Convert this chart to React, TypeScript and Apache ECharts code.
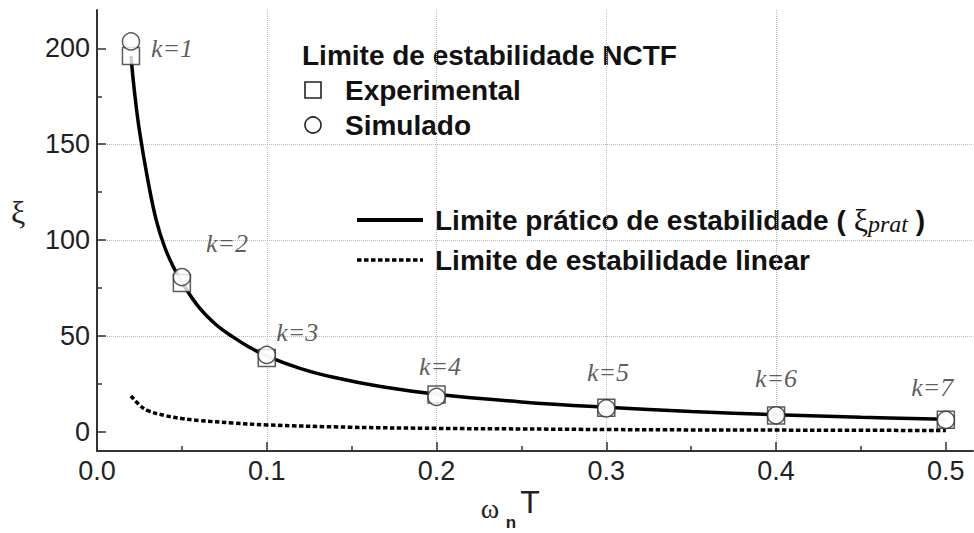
import React, { useEffect, useRef } from "react";
import * as echarts from "echarts";

// ---- data ----
const kX = [0.02, 0.05, 0.1, 0.2, 0.3, 0.4, 0.5];
const experimental = [196, 77.6, 38.5, 19.5, 12.5, 8.5, 6.3];
const simulated = [203.6, 80.7, 40.1, 18.2, 12.2, 8.6, 6.2];

const practicalX = [0.02, 0.022, 0.025, 0.03, 0.035, 0.04, 0.045, 0.05, 0.06, 0.07, 0.08, 0.09, 0.1, 0.12, 0.14, 0.167, 0.2, 0.25, 0.3, 0.35, 0.4, 0.45, 0.5];
const practicalY = [196, 178, 157, 131, 110, 96, 86, 78, 65, 56, 49.5, 44, 39.5, 33, 28.3, 23.6, 19.6, 15.6, 12.8, 10.6, 8.9, 7.6, 6.5];

const linearX = [0.02, 0.025, 0.03, 0.04, 0.05, 0.06, 0.08, 0.1, 0.15, 0.2, 0.25, 0.3, 0.35, 0.4, 0.45, 0.5];
const linearY = [18.8, 14, 11, 8.5, 6.9, 5.9, 4.6, 3.6, 2.4, 1.8, 1.5, 1.2, 1.0, 0.9, 0.8, 0.7];

const kLabels = ["k=1", "k=2", "k=3", "k=4", "k=5", "k=6", "k=7"];
const kLabelX = [0.0442, 0.0766, 0.118, 0.202, 0.301, 0.4, 0.492];
const kLabelY = [200, 98.4, 52, 33.9, 30.7, 28, 23];

const xTicks = [0, 0.1, 0.2, 0.3, 0.4, 0.5];
const xMinorTicks = [0.05, 0.15, 0.25, 0.35, 0.45];
const yTicks = [0, 50, 100, 150, 200];
const yMinorTicks = [25, 75, 125, 175];

const X_MIN = 0;
const X_MAX = 0.516;
const Y_MIN = -10;
const Y_MAX = 220;

const SANS = '"Liberation Sans", Arial, sans-serif';
const SERIF = '"Liberation Serif", "Times New Roman", serif';

export default function App() {
  const ref = useRef<HTMLDivElement>(null);

  useEffect(() => {
    document.body.style.margin = "0";
    if (!ref.current) return;
    const chart = echarts.init(ref.current, undefined, { renderer: "svg" });

    const axisLineStyle = { color: "#333", width: 2 };

    const option: any = {
      animation: false,
      backgroundColor: "#fff",
      grid: { left: 97, right: 1, top: 10, bottom: 82, containLabel: false },
      xAxis: [
        {
          type: "value",
          min: X_MIN,
          max: X_MAX,
          interval: 0.1,
          position: "bottom",
          axisLine: { show: true, onZero: false, lineStyle: axisLineStyle },
          axisTick: { show: true, inside: true, length: 9, customValues: xTicks, lineStyle: { color: "#333", width: 1.5 } },
          axisLabel: {
            customValues: xTicks,
            formatter: (v: number) => v.toFixed(1),
            fontFamily: SANS,
            fontSize: 27,
            color: "#222",
            margin: 6,
          },
          splitLine: { show: true, showMaxLine: false, showMinLine: false, lineStyle: { type: "dotted", color: "#bbb", width: 1 } },
        },
        {
          type: "value",
          min: X_MIN,
          max: X_MAX,
          position: "bottom",
          axisLine: { show: false, onZero: false },
          axisTick: { show: true, inside: true, length: 5, customValues: xMinorTicks, lineStyle: { color: "#333", width: 1.5 } },
          axisLabel: { show: false },
          splitLine: { show: false },
        },
      ],
      yAxis: [
        {
          type: "value",
          min: Y_MIN,
          max: Y_MAX,
          splitNumber: 5,
          position: "left",
          axisLine: { show: true, onZero: false, lineStyle: axisLineStyle },
          axisTick: { show: true, inside: true, length: 9, customValues: yTicks, lineStyle: { color: "#333", width: 1.5 } },
          axisLabel: {
            customValues: yTicks,
            fontFamily: SANS,
            fontSize: 27,
            color: "#222",
            margin: 7,
          },
          splitLine: { show: true, showMaxLine: false, showMinLine: false, lineStyle: { type: "dotted", color: "#bbb", width: 1 } },
        },
        {
          type: "value",
          min: Y_MIN,
          max: Y_MAX,
          position: "left",
          axisLine: { show: false, onZero: false },
          axisTick: { show: true, inside: true, length: 5, customValues: yMinorTicks, lineStyle: { color: "#333", width: 1.5 } },
          axisLabel: { show: false },
          splitLine: { show: false },
        },
      ],
      series: [
        {
          name: "Limite de estabilidade linear",
          type: "line",
          data: linearX.map((x, i) => [x, linearY[i]]),
          smooth: 0.4,
          symbol: "none",
          lineStyle: { color: "#000", width: 3.5, type: [4.5, 2.5] },
          z: 2,
        },
        {
          name: "Limite prático de estabilidade",
          type: "line",
          data: practicalX.map((x, i) => [x, practicalY[i]]),
          smooth: 0.4,
          symbol: "none",
          lineStyle: { color: "#000", width: 3.5 },
          z: 3,
        },
        {
          name: "Experimental",
          type: "scatter",
          data: kX.map((x, i) => [x, experimental[i]]),
          symbol: "rect",
          symbolSize: 17,
          itemStyle: { color: "#fff", borderColor: "#333", borderWidth: 1.5 },
          z: 4,
        },
        {
          name: "Simulado",
          type: "scatter",
          data: kX.map((x, i) => [x, simulated[i]]),
          symbol: "circle",
          symbolSize: 17,
          itemStyle: { color: "#fff", borderColor: "#333", borderWidth: 1.5 },
          z: 5,
        },
        {
          name: "k",
          type: "scatter",
          data: kLabelX.map((x, i) => ({ value: [x, kLabelY[i]], name: kLabels[i] })),
          symbolSize: 1,
          itemStyle: { color: "rgba(0,0,0,0)" },
          label: {
            show: true,
            position: "inside",
            formatter: (p: any) => p.name,
            fontFamily: SERIF,
            fontStyle: "italic",
            fontSize: 26,
            color: "#333",
          },
          silent: true,
          z: 6,
        },
      ],
      graphic: [
        {
          type: "text",
          x: 302,
          y: 55,
          style: { text: "Limite de estabilidade NCTF", font: `bold 28px ${SANS}`, fill: "#111", align: "left", verticalAlign: "middle" },
        },
        {
          type: "rect",
          shape: { x: 305, y: 82, width: 16, height: 16 },
          style: { fill: "#fff", stroke: "#222", lineWidth: 1.6 },
        },
        {
          type: "text",
          x: 345,
          y: 90,
          style: { text: "Experimental", font: `bold 28px ${SANS}`, fill: "#111", align: "left", verticalAlign: "middle" },
        },
        {
          type: "circle",
          shape: { cx: 313, cy: 125, r: 8 },
          style: { fill: "#fff", stroke: "#222", lineWidth: 1.6 },
        },
        {
          type: "text",
          x: 345,
          y: 125,
          style: { text: "Simulado", font: `bold 28px ${SANS}`, fill: "#111", align: "left", verticalAlign: "middle" },
        },
        {
          type: "line",
          shape: { x1: 357, y1: 220, x2: 423, y2: 220 },
          style: { stroke: "#000", lineWidth: 4 },
        },
        {
          type: "text",
          x: 435,
          y: 220,
          style: {
            text: "{a|Limite prático de estabilidade (}{b| ξ}{c|prat}{a| )}",
            fill: "#111",
            align: "left",
            verticalAlign: "middle",
            rich: {
              a: { fontFamily: SANS, fontWeight: "bold", fontSize: 28, fill: "#111" },
              b: { fontFamily: SERIF, fontSize: 32, fill: "#111" },
              c: { fontFamily: SERIF, fontStyle: "italic", fontSize: 24, fill: "#111", verticalAlign: "bottom" },
            },
          },
        },
        {
          type: "line",
          shape: { x1: 357, y1: 260, x2: 423, y2: 260 },
          style: { stroke: "#000", lineWidth: 3.5, lineDash: [4.5, 2.5] },
        },
        {
          type: "text",
          x: 435,
          y: 260,
          style: { text: "Limite de estabilidade linear", font: `bold 28px ${SANS}`, fill: "#111", align: "left", verticalAlign: "middle" },
        },
        {
          type: "text",
          x: 18,
          y: 212,
          style: { text: "ξ", font: `32px ${SERIF}`, fill: "#222", align: "center", verticalAlign: "middle" },
        },
        {
          type: "text",
          x: 490,
          y: 508,
          style: { text: "ω", font: `28px ${SERIF}`, fill: "#222", align: "center", verticalAlign: "middle" },
        },
        {
          type: "text",
          x: 511,
          y: 522,
          style: { text: "n", font: `bold 17px ${SANS}`, fill: "#222", align: "center", verticalAlign: "middle" },
        },
        {
          type: "text",
          x: 530,
          y: 502,
          style: { text: "T", font: `32px ${SANS}`, fill: "#222", align: "center", verticalAlign: "middle" },
        },
      ],
    };

    chart.setOption(option);
    return () => chart.dispose();
  }, []);

  return <div ref={ref} style={{ width: 974, height: 533 }} />;
}
